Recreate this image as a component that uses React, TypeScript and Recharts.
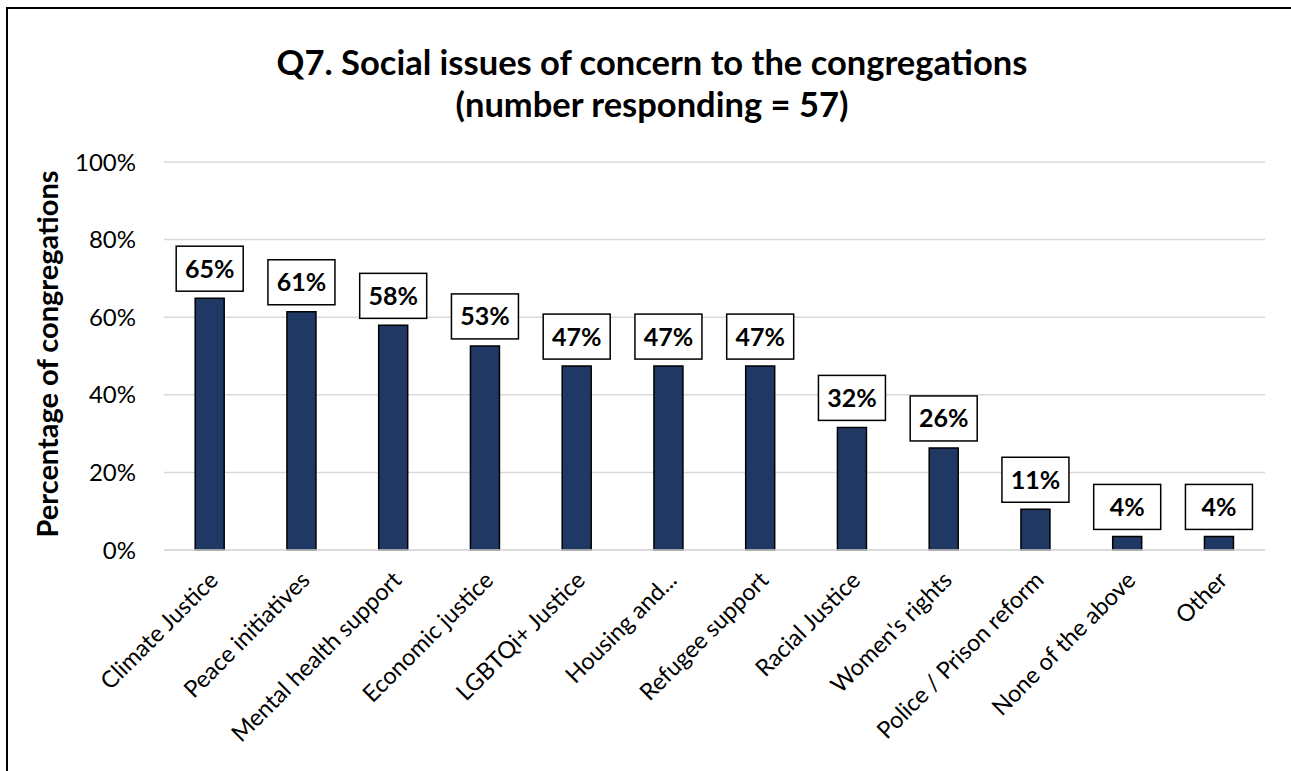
import { BarChart, Bar, XAxis, YAxis, CartesianGrid, LabelList } from "recharts";

const categories = [
  "Climate Justice",
  "Peace initiatives",
  "Mental health support",
  "Economic justice",
  "LGBTQi+ Justice",
  "Housing and...",
  "Refugee support",
  "Racial Justice",
  "Women's rights",
  "Police / Prison reform",
  "None of the above",
  "Other",
];
const shares = [0.649, 0.614, 0.579, 0.526, 0.474, 0.474, 0.474, 0.316, 0.263, 0.105, 0.035, 0.035];
const yTicks = [0, 0.2, 0.4, 0.6, 0.8, 1];

const data = categories.map((name, i) => ({ name, value: shares[i] }));

const FONT = "Lato, 'Open Sans', sans-serif";

const BoxLabel = (props: any) => {
  const { x, y, width, value } = props;
  const cx = x + width / 2;
  const w = 67;
  const h = 45;
  const bottom = y - 7;
  return (
    <g>
      <rect x={cx - w / 2} y={bottom - h} width={w} height={h} fill="#fff" stroke="#000" strokeWidth={1.5} />
      <text
        x={cx}
        y={bottom - h / 2}
        dy="0.36em"
        textAnchor="middle"
        fontFamily={FONT}
        fontWeight={700}
        fontSize={25}
        fill="#000"
      >
        {Math.round(value * 100)}%
      </text>
    </g>
  );
};

const RotTick = (props: any) => {
  const { x, y, payload } = props;
  return (
    <g transform={`translate(${x - 2},${y + 12})`}>
      <text
        transform="rotate(-45)"
        textAnchor="end"
        dy="0.7em"
        fontFamily={FONT}
        fontSize={23.5}
        fill="#000"
      >
        {payload.value}
      </text>
    </g>
  );
};

export default function App() {
  return (
    <div style={{ position: "absolute", left: 0, top: 0, width: 1291, height: 771, overflow: "hidden", background: "#fff" }}>
      <div
        style={{
          position: "absolute",
          left: 6,
          top: 7,
          width: 1320,
          height: 800,
          border: "2px solid #000",
        }}
      />
      <div
        style={{
          position: "absolute",
          left: 0,
          top: 41,
          width: 1304,
          textAlign: "center",
          fontFamily: FONT,
          fontWeight: 700,
          fontSize: 34.5,
          lineHeight: "42px",
          color: "#000",
        }}
      >
        Q7. Social issues of concern to the congregations
        <br />
        (number responding = 57)
      </div>
      <div
        style={{
          position: "absolute",
          left: 46,
          top: 354,
          transform: "translate(-50%, -50%) rotate(-90deg)",
          whiteSpace: "nowrap",
          fontFamily: FONT,
          fontWeight: 700,
          fontSize: 29,
          color: "#000",
        }}
      >
        Percentage of congregations
      </div>
      <div style={{ position: "absolute", left: 0, top: 0 }}>
        <BarChart
          width={1291}
          height={771}
          data={data}
          margin={{ top: 162, right: 26, bottom: 0, left: 64 }}
          barCategoryGap="34%"
        >
          <CartesianGrid vertical={false} stroke="#d9d9d9" strokeWidth={1.5} />
          <XAxis
            dataKey="name"
            interval={0}
            tickLine={false}
            axisLine={{ stroke: "#d9d9d9", strokeWidth: 1.5 }}
            tick={<RotTick />}
            height={221}
          />
          <YAxis
            width={100}
            domain={[0, 1]}
            ticks={yTicks}
            tickFormatter={(v: number) => `${Math.round(v * 100)}%`}
            axisLine={false}
            tickLine={false}
            tickMargin={22}
            tick={{ fontFamily: FONT, fontSize: 24, fill: "#000" }}
          />
          <Bar dataKey="value" fill="#203864" stroke="#000" strokeWidth={1.5} isAnimationActive={false}>
            <LabelList dataKey="value" content={<BoxLabel />} />
          </Bar>
        </BarChart>
      </div>
    </div>
  );
}
